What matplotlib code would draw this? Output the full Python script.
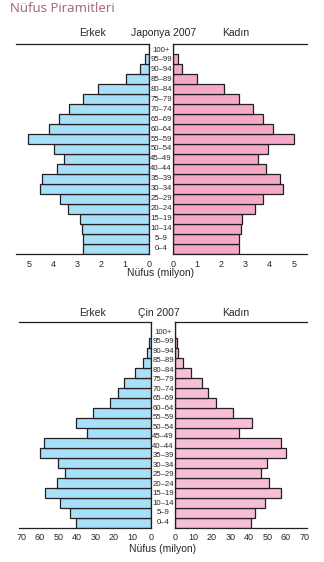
import matplotlib
matplotlib.use("Agg")
import matplotlib.pyplot as plt
import matplotlib.transforms as mtransforms
import numpy as np

plt.rcParams['font.family'] = ['Liberation Sans', 'DejaVu Sans']

age_groups = ["0–4", "5–9", "10–14", "15–19", "20–24", "25–29", "30–34",
              "35–39", "40–44", "45–49", "50–54", "55–59", "60–64", "65–69",
              "70–74", "75–79", "80–84", "85–89", "90–94", "95–99", "100+"]

japan_male = [2.74, 2.74, 2.78, 2.86, 3.36, 3.70, 4.53, 4.44, 3.82, 3.53, 3.94,
              5.03, 4.15, 3.74, 3.32, 2.74, 2.11, 0.95, 0.36, 0.15, 0.0]
japan_female = [2.74, 2.74, 2.82, 2.86, 3.40, 3.73, 4.56, 4.43, 3.85, 3.52, 3.94,
                5.00, 4.14, 3.73, 3.32, 2.74, 2.12, 1.00, 0.38, 0.22, 0.0]

# China: bars fill the bottom 19 slots of the drawing
china_male = [40.6, 43.5, 48.9, 57.0, 50.9, 46.2, 50.0, 59.7, 57.6, 34.3, 40.6,
              31.4, 21.9, 17.5, 14.3, 8.3, 4.0, 2.0, 0.8, 0.0, 0.0]
china_female = [41.4, 43.6, 49.0, 57.7, 51.2, 46.8, 50.1, 60.4, 57.7, 34.9, 41.6,
                31.6, 22.1, 18.1, 14.8, 8.9, 4.5, 1.8, 0.9, 0.0, 0.0]

japan_ticks = [0, 1, 2, 3, 4, 5]
china_ticks = [0, 10, 20, 30, 40, 50, 60, 70]

W, H = 324, 562
fig = plt.figure(figsize=(W / 100, H / 100), dpi=100)
fig.patch.set_facecolor("white")

BLUE = "#a8e0f9"
EDGE = "#231f20"
TXT = "#2b2526"


def fx(px):
    return px / W


def fy(py):
    return 1 - py / H


def add_ax(x0, x1, y0, y1):
    return fig.add_axes([fx(x0), fy(y1), fx(x1) - fx(x0), (y1 - y0) / H])


def pyramid(male, female, ticks, xmax, pink, box, ytop, label_scale, label_off,
            country, head_y, xlabel_y, mid_x, head_x):
    lx0, lx1, rx0, rx1, y0, y1 = box
    axl = add_ax(lx0, lx1, y0, y1)
    axr = add_ax(rx0, rx1, y0, y1)
    ypos = np.arange(len(age_groups))
    axl.barh(ypos, male, height=1.0, color=BLUE, edgecolor=EDGE, linewidth=0.9)
    axr.barh(ypos, female, height=1.0, color=pink, edgecolor=EDGE, linewidth=0.9)
    for ax in (axl, axr):
        ax.set_ylim(-0.5, ytop)
        ax.set_yticks([])
        ax.set_xticks(ticks)
        ax.set_xticklabels([str(t) for t in ticks], fontsize=6.5, color=TXT)
        ax.tick_params(axis="x", length=0, pad=4)
        for s in ax.spines.values():
            s.set_linewidth(0.9)
            s.set_color(EDGE)
        ax.set_facecolor("none")
    axl.set_xlim(xmax, 0)
    axr.set_xlim(0, xmax)
    axl.spines["left"].set_visible(False)
    axr.spines["right"].set_visible(False)

    tr = mtransforms.blended_transform_factory(fig.transFigure, axl.transData)
    for i, lab in enumerate(age_groups):
        fig.text(fx(mid_x), label_off + i * label_scale, lab, transform=tr,
                 ha="center", va="center", fontsize=5.6, color=TXT)

    fig.text(fx(head_x[0]), fy(head_y), "Erkek", ha="center", va="center",
             fontsize=7.5, color=TXT)
    fig.text(fx(head_x[1]), fy(head_y), country, ha="center", va="center",
             fontsize=7.5, color=TXT)
    fig.text(fx(head_x[2]), fy(head_y), "Kadın", ha="center", va="center",
             fontsize=7.5, color=TXT)
    fig.text(fx(mid_x), fy(xlabel_y), "Nüfus (milyon)", ha="center",
             va="center", fontsize=7.5, color=TXT)


fig.text(fx(10), fy(9), "Nüfus Piramitleri", ha="left", va="center",
         fontsize=9.5, color="#a3636e", family=["Open Sans", "DejaVu Sans"])

pyramid(japan_male, japan_female, japan_ticks, 5.54, "#f5a9c8",
        (16, 149, 173, 307, 44, 254), 20.5, 1.0 * 0.99, 0.1,
        "Japonya 2007", 33, 273, 161, (92, 164, 236))

pyramid(china_male, china_female, china_ticks, 71.5, "#f8bed7",
        (18.6, 150.7, 175, 306.8, 322.3, 527.7), 20.1, 0.952, 0.07,
        "Çin 2007", 313, 549, 163, (93, 159, 236))

fig.savefig("out.png", dpi=100)
